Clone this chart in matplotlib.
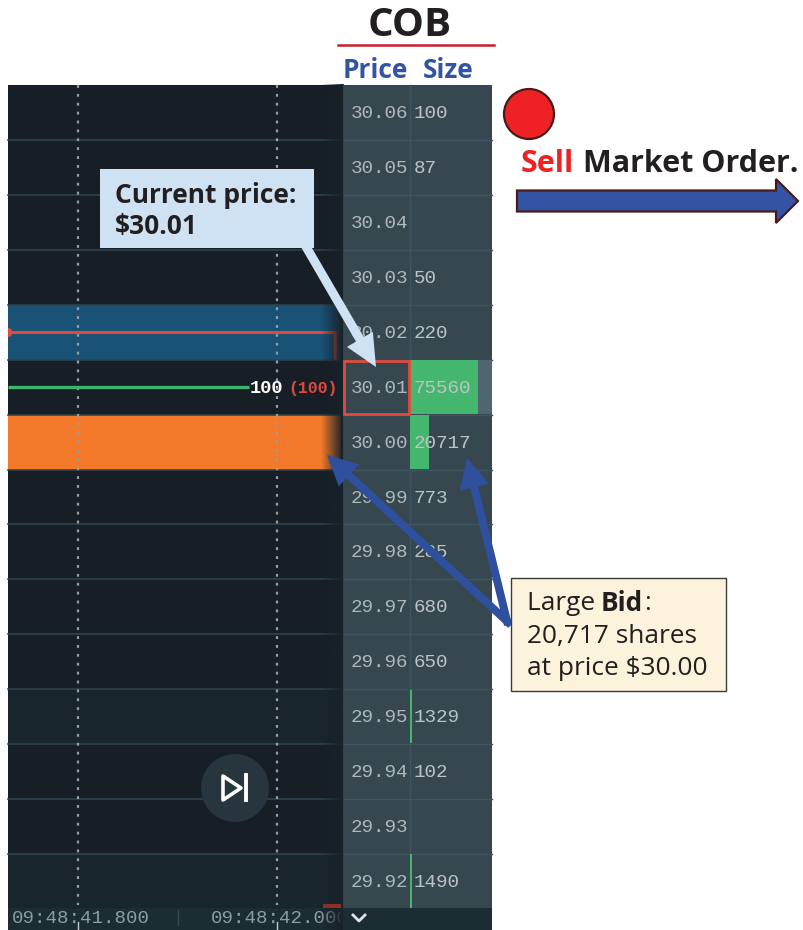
import numpy as np
import matplotlib
matplotlib.use("Agg")
import matplotlib.pyplot as plt
from matplotlib.patches import Rectangle, Circle, Polygon
from matplotlib.colors import to_rgb

# order book
prices = [30.06, 30.05, 30.04, 30.03, 30.02, 30.01, 30.00, 29.99, 29.98, 29.97,
          29.96, 29.95, 29.94, 29.93, 29.92]
sizes = [100, 87, None, 50, 220, 75560, 20717, 773, 285, 680, 650, 1329, 102, None, 1490]
time_labels = ["09:48:41.800", "09:48:42.000"]
time_pos = [78, 277]
order_qty = "100"
order_open = "(100)"

top_row = 113.0
row_h = 54.86
size_scale = 68.0 / 75560

def row_y(p):
    return top_row + (prices[0] - p) / 0.01 * row_h

def h_fade(ax, x0, x1, y0, y1, color, a0, a1, z):
    # horizontal alpha ramp, used for the dark edge of the chart
    rgba = np.zeros((1, 64, 4))
    rgba[..., :3] = to_rgb(color)
    rgba[..., 3] = np.linspace(a0, a1, 64)
    ax.imshow(rgba, extent=(x0, x1, y1, y0), aspect='auto', zorder=z, interpolation='bilinear')

def fat_arrow(ax, start, tip, shaft, head_w, head_l, color, z=8, edge='none', lw=0):
    start, tip = np.array(start, float), np.array(tip, float)
    d = (tip - start) / np.linalg.norm(tip - start)
    n = np.array([-d[1], d[0]])
    b = tip - d * head_l
    pts = [start + n * shaft / 2, b + n * shaft / 2, b + n * head_w / 2, tip,
           b - n * head_w / 2, b - n * shaft / 2, start - n * shaft / 2]
    ax.add_patch(Polygon(pts, closed=True, fc=color, ec=edge, lw=lw, zorder=z))

fig = plt.figure(figsize=(8.04, 9.30), dpi=100)
ax = fig.add_axes([0, 0, 1, 1])
sans = "Open Sans"
mono = "Liberation Mono"

# panels
ax.add_patch(Rectangle((8, 85), 335, 845, fc='#171e25', ec='none', zorder=1))
ax.add_patch(Rectangle((343, 85), 149, 845, fc='#36474f', ec='none', zorder=1))
for p in [29.95, 29.92]:
    ax.add_patch(Rectangle((8, row_y(p) - row_h / 2), 335, row_h, fc='#18252c', ec='none', zorder=1.2))

# highlighted bands in the chart
band_blue = row_y(30.02)
band_orange = row_y(30.00)
ax.add_patch(Rectangle((8, band_blue - row_h / 2), 333, row_h, fc='#1a5276', ec='none', zorder=2))
ax.add_patch(Rectangle((8, band_orange - row_h / 2), 333, row_h, fc='#f5792b', ec='none', zorder=2))

# row separators
for p in prices[:-1]:
    y = row_y(p) + row_h / 2
    ax.plot([8, 343], [y, y], color='#2f434e', lw=1.2, zorder=3)
    ax.plot([343, 492], [y, y], color='#3f5563', lw=1, zorder=3)
ax.plot([410, 410], [85, 908], color='#3f5563', lw=1, zorder=3)
ax.plot([343, 343], [85, 930], color='#2c4655', lw=1.5, zorder=3)

# time grid
for x in time_pos:
    ax.plot([x, x], [85, 905], color='#969ea2', lw=1.6, ls=(0, (1.3, 2.7)), zorder=4)

# order lines
ax.plot([8, 335, 335], [band_blue, band_blue, band_blue + row_h / 2 - 1], color='#e04a3c', lw=2.2, zorder=5,
        solid_joinstyle='miter', solid_capstyle='butt')
mark = Circle((8, band_blue), 4.5, fc='#e04a3c', ec='none', zorder=5)
ax.add_patch(mark)
mark.set_clip_path(Rectangle((8, 85), 335, 845, transform=ax.transData))
y_cur = row_y(30.01)
ax.plot([8, 249], [y_cur, y_cur], color='#3cb56a', lw=2.4, zorder=5, solid_capstyle='butt')
ax.text(250, y_cur + 1, order_qty, family=mono, weight='bold', fontsize=13.4, color='white', va='center', zorder=6)
ax.text(288, y_cur + 1, order_open, family=mono, weight='bold', fontsize=11.9, color='#e04a3c', va='center', zorder=6)

# dark fade at the right edge of the chart
h_fade(ax, 321, 343, 85, 930, '#18222a', 0.0, 1.0, 5.5)

# play button
ax.add_patch(Circle((235, 788), 34, fc='#27363e', ec='none', zorder=6))
ax.add_patch(Polygon([(223, 776), (223, 800), (241, 788)], closed=True, fc='none', ec='white', lw=2.6, zorder=7,
                     joinstyle='round'))
ax.plot([246, 246], [775, 800], color='white', lw=2.8, zorder=7)

# time axis
ax.add_patch(Rectangle((8, 908), 484, 22, fc='#1b2c33', ec='none', zorder=6))
h_fade(ax, 321, 343, 908, 930, '#18222a', 0.0, 1.0, 6.2)
ax.add_patch(Rectangle((343, 908), 149, 22, fc='#1b2c33', ec='none', zorder=6.25))
ax.add_patch(Rectangle((323, 904), 18, 4, fc='#8a2f2a', ec='none', zorder=6))
for lab, x in zip(time_labels, time_pos):
    ax.text(x - 66, 918, lab, family=mono, fontsize=13.8, color='#8f9ca2', va='center', zorder=6.1)
    ax.plot([x, x], [922, 930], color='#c4cbce', lw=1, zorder=6.3)
ax.plot([178.5, 178.5], [910, 925], color='#35494f', lw=1, zorder=6.3)
ax.plot([353, 359, 365], [915, 921, 915], color='#dfe4e6', lw=2, zorder=7)

# size bars and labels
for p, s in zip(prices, sizes):
    y = row_y(p)
    ax.text(351, y + 1, f"{p:.2f}", family=mono, fontsize=13.9, color='#b0b8bc', va='center', zorder=7)
    if s is None:
        continue
    w = s * size_scale
    if w >= 1:
        ax.add_patch(Rectangle((410.5, y - row_h / 2 + 0.5), max(w, 2), row_h - 1, fc='#45b66d', ec='none', zorder=4))
    ax.text(414, y + 1, str(s), family=mono, fontsize=13.9, color='#bcc4c7', va='center', zorder=7)
ax.add_patch(Rectangle((478.5, y_cur - row_h / 2 + 0.5), 13.5, row_h - 1, fc='#4f6672', ec='none', zorder=4))
ax.add_patch(Rectangle((344, y_cur - row_h / 2 + 1), 65, row_h - 2, fc='none', ec='#e04a3c', lw=2, zorder=7.5))

# header
ax.text(410, 26, "COB", family=sans, weight='bold', fontsize=29, color='#231f20', ha='center', va='center')
ax.plot([338, 494], [45, 45], color='#c8202a', lw=1.8)
ax.text(343, 70, "Price", family=sans, weight='bold', fontsize=19, color='#3353a4', va='center')
ax.text(423, 70, "Size", family=sans, weight='bold', fontsize=19, color='#3353a4', va='center')

# sell market order
ax.add_patch(Circle((529, 114), 25, fc='#ee2224', ec='#4a1a1a', lw=1.6, zorder=8))
ax.text(521, 164, "Sell", family=sans, weight='bold', fontsize=22, color='#ee2224', va='center')
ax.text(583, 164, "Market Order.", family=sans, weight='bold', fontsize=22, color='#231f20', va='center')
fat_arrow(ax, (517, 201), (798, 201), 21, 44, 22, '#3353a4', edge='#4a1a1a', lw=1.6)

# callouts
ax.add_patch(Rectangle((100, 169), 214, 79, fc='#cfe2f3', ec='none', zorder=8))
ax.text(115, 195, "Current price:", family=sans, weight='bold', fontsize=19, color='#231f20', va='center', zorder=9)
ax.text(115, 226, "$30.01", family=sans, weight='bold', fontsize=19, color='#231f20', va='center', zorder=9)
fat_arrow(ax, (305, 245), (376, 367), 9, 30, 32, '#cfe2f3')

fat_arrow(ax, (511, 625), (327, 455), 8, 30, 30, '#2f4f9f')
fat_arrow(ax, (508, 625), (467, 458), 8, 30, 30, '#2f4f9f')
ax.add_patch(Rectangle((511, 578), 215, 113, fc='#fdf3dc', ec='#3a3a3a', lw=1, zorder=9))
ax.text(527, 603, "Large ", family=sans, fontsize=18.9, color='#231f20', va='center', zorder=10)
ax.text(601, 603, "Bid", family=sans, weight='bold', fontsize=18.9, color='#231f20', va='center', zorder=10)
ax.text(644, 603, ":", family=sans, fontsize=18.9, color='#231f20', va='center', zorder=10)
ax.text(527, 636, "20,717 shares", family=sans, fontsize=18.9, color='#231f20', va='center', zorder=10)
ax.text(527, 668, "at price $30.00", family=sans, fontsize=18.9, color='#231f20', va='center', zorder=10)

ax.set_xlim(0, 804)
ax.set_ylim(930, 0)
ax.axis('off')
fig.savefig("out.png", dpi=100, facecolor='white')
